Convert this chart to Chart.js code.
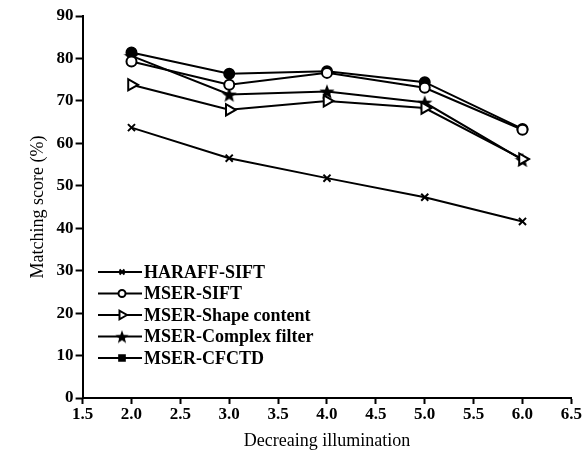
<!DOCTYPE html>
<html>
<head>
<meta charset="utf-8">
<script src="https://cdn.jsdelivr.net/npm/chart.js@4.4.1/dist/chart.umd.min.js"></script>
<style>
  html, body { margin: 0; padding: 0; background: #fff; }
  .wrap { width: 582px; height: 458px; position: relative; }
</style>
</head>
<body>
<div class="wrap"><canvas id="chart"></canvas></div>
<script>
// illumination levels
const illum = [2.0, 3.0, 4.0, 5.0, 6.0];
// matching score (%) per method
const haraffSift = [63.7, 56.5, 51.8, 47.3, 41.6];
const mserSift = [79.3, 73.8, 76.6, 73.1, 63.2];
const mserShape = [73.8, 67.9, 70.0, 68.3, 56.3];
const mserComplex = [80.6, 71.5, 72.2, 69.6, 56.1];
const mserCfctd = [81.4, 76.4, 77.0, 74.4, 63.4];

const seriesNames = ['HARAFF-SIFT', 'MSER-SIFT', 'MSER-Shape content', 'MSER-Complex filter', 'MSER-CFCTD'];
const yTicks = [0, 10, 20, 30, 40, 50, 60, 70, 80, 90];
const xTicks = [1.5, 2.0, 2.5, 3.0, 3.5, 4.0, 4.5, 5.0, 5.5, 6.0, 6.5];

// filled five point star used as point style
function makeStar(size) {
  const c = document.createElement('canvas');
  c.width = size; c.height = size;
  const g = c.getContext('2d');
  const cx = size / 2, cy = size / 2 + 0.8;
  const R = size / 2, r = R * 0.42;
  g.beginPath();
  for (let i = 0; i < 10; i++) {
    const rad = i % 2 === 0 ? R : r;
    const a = -Math.PI / 2 + i * Math.PI / 5;
    const px = cx + rad * Math.cos(a), py = cy + rad * Math.sin(a);
    if (i === 0) g.moveTo(px, py); else g.lineTo(px, py);
  }
  g.closePath();
  g.fillStyle = '#000';
  g.fill();
  return c;
}
const star = makeStar(16);
const starSmall = makeStar(14);

const pts = (arr) => arr.map((v, i) => ({x: illum[i], y: v}));

const styles = [
  {pointStyle: 'crossRot', pointRadius: 5, pointBackgroundColor: '#000', pointBorderWidth: 2, pointRotation: 0},
  {pointStyle: 'circle', pointRadius: 5, pointBackgroundColor: '#fff', pointBorderWidth: 2, pointRotation: 0},
  {pointStyle: 'triangle', pointRadius: 6.5, pointBackgroundColor: '#fff', pointBorderWidth: 2, pointRotation: 90},
  {pointStyle: star, pointRadius: 8, pointBackgroundColor: '#000', pointBorderWidth: 1, pointRotation: 0},
  {pointStyle: 'circle', pointRadius: 5, pointBackgroundColor: '#000', pointBorderWidth: 2, pointRotation: 0}
];
const allData = [haraffSift, mserSift, mserShape, mserComplex, mserCfctd];

const datasets = allData.map((d, i) => Object.assign({
  label: seriesNames[i],
  data: pts(d),
  borderColor: '#000',
  borderWidth: 2,
  pointBorderColor: '#000',
  fill: false,
  tension: 0
}, styles[i]));

// legend drawn inside the plot, bottom left
const legendPoint = [
  {style: 'crossRot', r: 3.5},
  {style: 'circle', r: 3.5},
  {style: 'triangle', r: 5},
  {style: starSmall, r: 7},
  {style: 'rect', r: 4}
];
const insideLegend = {
  id: 'insideLegend',
  afterDatasetsDraw(chart) {
    const ctx = chart.ctx;
    const x0 = 98, x1 = 142;
    const rows = [272, 293.5, 315, 336.5, 358];
    ctx.save();
    datasets.forEach((ds, i) => {
      const y = rows[i];
      ctx.strokeStyle = '#000';
      ctx.lineWidth = 2;
      ctx.beginPath();
      ctx.moveTo(x0, y);
      ctx.lineTo(x1, y);
      ctx.stroke();
      ctx.fillStyle = ds.pointBackgroundColor;
      ctx.strokeStyle = '#000';
      ctx.lineWidth = 2;
      Chart.helpers.drawPoint(ctx, {
        pointStyle: legendPoint[i].style,
        radius: legendPoint[i].r,
        rotation: ds.pointRotation,
        borderWidth: 2
      }, 122, y);
      ctx.fillStyle = '#000';
      ctx.font = 'bold 18px "Liberation Serif"';
      ctx.textBaseline = 'middle';
      ctx.textAlign = 'left';
      ctx.fillText(seriesNames[i], 144, y + 1);
    });
    ctx.restore();
  }
};

const tickFont = {family: '"Liberation Serif"', size: 17, weight: 'bold'};
const titleFont = {family: '"Liberation Serif"', size: 18};

new Chart(document.getElementById('chart'), {
  type: 'line',
  data: {datasets: datasets},
  options: {
    responsive: true,
    maintainAspectRatio: false,
    animation: false,
    layout: {padding: {top: 16, right: 5, bottom: 6, left: 27}},
    scales: {
      x: {
        type: 'linear',
        min: 1.5,
        max: 6.5,
        afterBuildTicks: (axis) => { axis.ticks = xTicks.map(v => ({value: v})); },
        ticks: {
          color: '#000',
          font: tickFont,
          padding: 0,
          maxRotation: 0,
          callback: (v) => Number(v).toFixed(1)
        },
        grid: {drawOnChartArea: false, color: '#000', tickLength: 6, tickWidth: 2},
        border: {color: '#000', width: 2},
        title: {display: true, text: 'Decreaing illumination', color: '#000', font: titleFont, padding: {top: 6, bottom: 0}}
      },
      y: {
        min: 0,
        max: 90,
        afterBuildTicks: (axis) => { axis.ticks = yTicks.map(v => ({value: v})); },
        ticks: {color: '#000', font: tickFont, padding: 2},
        grid: {drawOnChartArea: false, color: '#000', tickLength: 7, tickWidth: 2},
        border: {color: '#000', width: 2},
        title: {display: true, text: 'Matching score (%)', color: '#000', font: titleFont, padding: {top: 0, bottom: 6}}
      }
    },
    plugins: {
      legend: {display: false},
      tooltip: {enabled: false}
    }
  },
  plugins: [insideLegend]
});
</script>
</body>
</html>
